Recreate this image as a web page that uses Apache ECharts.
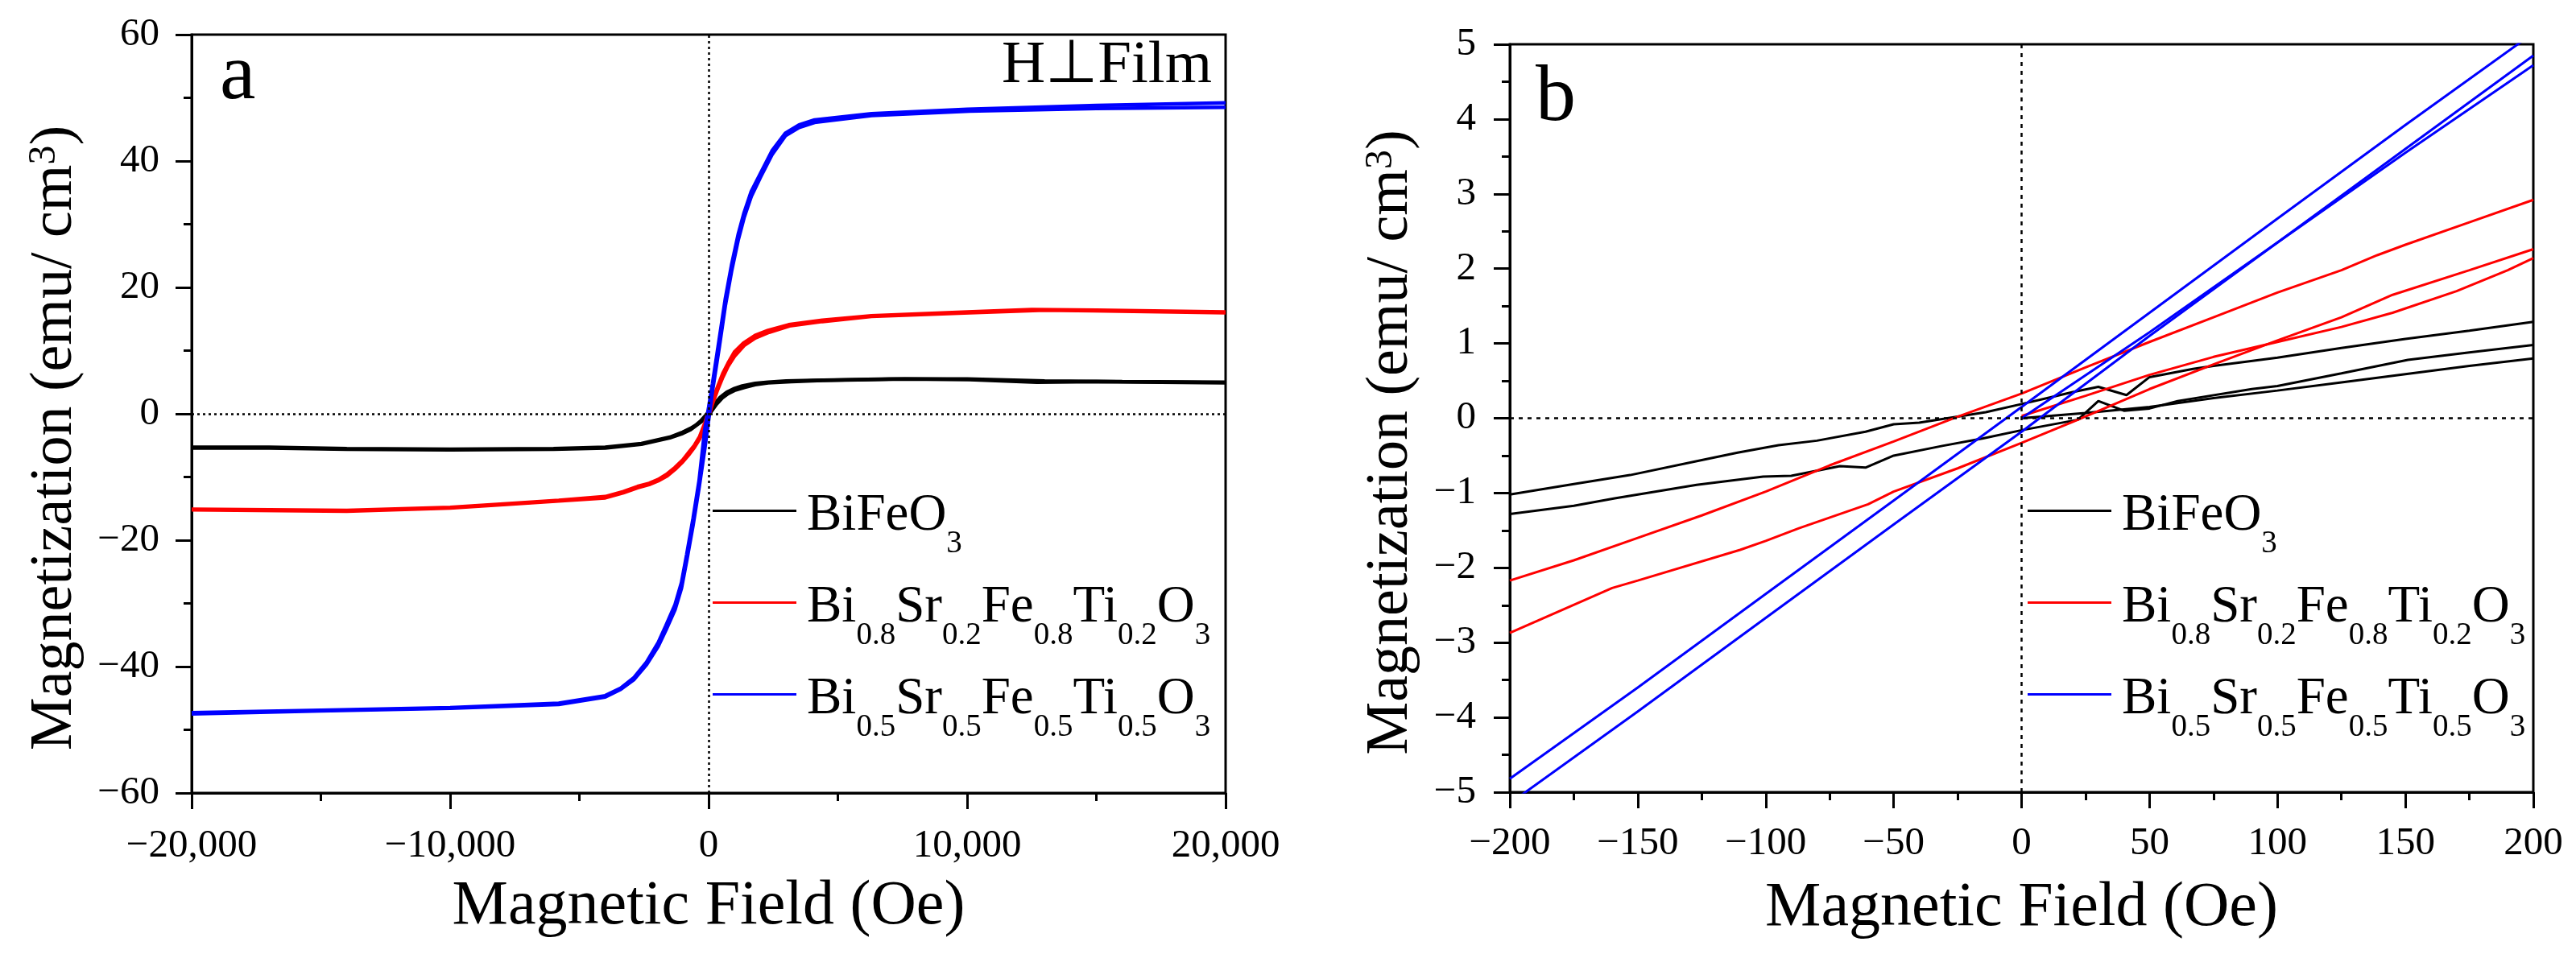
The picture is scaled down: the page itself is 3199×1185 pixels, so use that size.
<!DOCTYPE html>
<html>
<head>
<meta charset="utf-8">
<script src="https://cdn.jsdelivr.net/npm/echarts@6/dist/echarts.min.js"></script>
<style>
html, body { margin: 0; padding: 0; background: #fff; }
#chart { width: 3199px; height: 1185px; }
</style>
</head>
<body>
<div id="chart"></div>
<script>
// legend names
const names = ['BiFeO3', 'Bi0.8Sr0.2Fe0.8Ti0.2O3', 'Bi0.5Sr0.5Fe0.5Ti0.5O3'];
const colors = ['#000000', '#ff0000', '#0000ff'];

// panel a: full loops, field in Oe, magnetization in emu/cm3
const bfoUpA = [[-20000,-5.4],[-17000,-5.4],[-14000,-5.6],[-10000,-5.7],[-6000,-5.6],[-4000,-5.4],[-2600,-4.8],[-1500,-3.8],[-1000,-3.1],[-700,-2.5],[-300,-1.3],[0,-0.2],[300,1.5],[550,2.6],[750,3.2],[1000,3.7],[1400,4.2],[1800,4.6],[2300,4.9],[3200,5.1],[4400,5.3],[7600,5.5],[10100,5.4],[12700,5.0],[15000,5.1],[20000,4.9]];
const bfoDownA = [[20000,5.0],[16000,5.1],[13000,5.2],[10000,5.5],[7000,5.5],[4000,5.3],[3000,5.2],[2300,5.0],[1800,4.8],[1300,4.4],[1000,4.0],[700,3.4],[450,2.6],[300,1.9],[0,0.3],[-300,-1.1],[-500,-1.8],[-700,-2.3],[-1000,-2.9],[-1500,-3.7],[-2600,-4.7],[-4000,-5.3],[-6000,-5.5],[-10000,-5.6],[-14000,-5.5],[-17000,-5.3],[-20000,-5.3]];
const bsft2UpA = [[-20000,-15.2],[-14000,-15.4],[-10000,-14.9],[-7700,-14.3],[-5800,-13.8],[-4000,-13.3],[-3300,-12.5],[-2750,-11.7],[-2300,-11.2],[-1950,-10.6],[-1600,-9.8],[-1300,-8.8],[-1000,-7.6],[-750,-6.4],[-550,-5.3],[-350,-4.0],[-150,-2.1],[0,-0.5],[150,1.6],[330,3.6],[550,5.8],[750,7.5],[1000,9.1],[1370,10.8],[1800,12.0],[2340,12.9],[3130,13.9],[4400,14.6],[6300,15.4],[10100,16.0],[13000,16.4],[14900,16.3],[20000,16.0]];
const bsft2DownA = [[20000,16.1],[15000,16.4],[12500,16.5],[10000,16.1],[6300,15.5],[4400,14.8],[3100,14.1],[2300,13.2],[1800,12.4],[1350,11.2],[1000,9.8],[750,8.0],[550,6.4],[330,4.1],[150,2.2],[0,0.5],[-150,-1.5],[-350,-3.6],[-550,-5.0],[-750,-6.0],[-1000,-7.3],[-1300,-8.5],[-1600,-9.5],[-1950,-10.4],[-2300,-11.0],[-2750,-11.5],[-3300,-12.3],[-4000,-13.1],[-5800,-13.7],[-7700,-14.2],[-10000,-14.8],[-14000,-15.3],[-20000,-15.1]];
const bsft5UpA = [[-20000,-47.5],[-15000,-47.0],[-10000,-46.6],[-5800,-46.0],[-4000,-44.8],[-3400,-43.6],[-2900,-42.1],[-2400,-39.7],[-1950,-36.8],[-1650,-34.2],[-1300,-31.0],[-1050,-27.6],[-850,-23.3],[-600,-17.6],[-370,-11.7],[-150,-5.6],[0,-1],[150,3.6],[410,10.5],[650,17.2],[890,22.6],[1150,27.6],[1370,31.0],[1650,34.4],[2000,37.4],[2450,41.0],[2970,44.0],[3500,45.3],[4100,46.1],[6300,47.2],[10100,47.9],[15000,48.3],[20000,48.5]];
const bsft5DownA = [[20000,49.2],[15000,48.8],[10000,48.2],[6300,47.5],[4100,46.5],[3500,45.7],[2970,44.4],[2450,41.6],[2000,38.0],[1650,35.2],[1370,31.8],[1150,28.5],[890,23.6],[650,18.3],[410,11.8],[150,4.8],[0,1],[-150,-2.5],[-370,-10.6],[-600,-16.5],[-850,-22.3],[-1050,-26.7],[-1300,-30.2],[-1650,-33.5],[-1950,-36.2],[-2400,-39.3],[-2900,-41.8],[-3400,-43.4],[-4000,-44.6],[-5800,-45.8],[-10000,-46.5],[-15000,-46.9],[-20000,-47.3]];

// panel b: low field zoom, virgin curve + both branches
const bfoVirginB = [[0,0.0],[25,0.07],[50,0.15],[75,0.27],[100,0.37],[125,0.48],[150,0.59],[175,0.7],[200,0.8]];
const bfoDownB = [[200,1.29],[175,1.17],[150,1.06],[125,0.94],[100,0.81],[75,0.7],[67,0.66],[50,0.55],[41,0.31],[30,0.42],[20,0.35],[10,0.27],[0,0.19],[-14,0.08],[-27,0.01],[-40,-0.06],[-50,-0.08],[-61,-0.18],[-80,-0.3],[-95,-0.36],[-111,-0.46],[-125,-0.56],[-153,-0.76],[-175,-0.88],[-200,-1.02]];
const bfoUpB = [[-200,-1.28],[-175,-1.17],[-159,-1.07],[-127,-0.89],[-101,-0.78],[-90,-0.77],[-71,-0.64],[-61,-0.66],[-50,-0.5],[-31,-0.37],[-15,-0.27],[0,-0.16],[22,-0.02],[30,0.23],[40,0.1],[50,0.13],[61,0.23],[90,0.39],[100,0.43],[125,0.6],[151,0.78],[175,0.88],[200,0.98]];
const bsft2VirginB = [[0,0.03],[25,0.3],[50,0.58],[75,0.82],[100,1.02],[125,1.22],[145,1.41],[170,1.7],[190,1.98],[200,2.14]];
const bsft2DownB = [[200,2.92],[175,2.62],[150,2.32],[139,2.18],[125,1.98],[100,1.68],[75,1.35],[50,1.02],[25,0.68],[0,0.33],[-25,0.02],[-50,-0.31],[-75,-0.63],[-100,-0.98],[-125,-1.3],[-150,-1.6],[-175,-1.9],[-200,-2.17]];
const bsft2UpB = [[-200,-2.87],[-160,-2.27],[-150,-2.17],[-110,-1.76],[-100,-1.64],[-87,-1.47],[-60,-1.15],[-50,-0.98],[-25,-0.67],[0,-0.33],[22,-0.02],[50,0.39],[75,0.72],[100,1.04],[125,1.35],[145,1.65],[175,1.98],[200,2.26]];
const bsft5VirginB = [[0,0.0],[50,1.15],[100,2.35],[150,3.55],[200,4.72]];
const bsft5DownB = [[200,5.15],[150,3.92],[100,2.67],[50,1.41],[0,0.15],[-50,-1.1],[-100,-2.35],[-150,-3.6],[-200,-4.82]];
const bsft5UpB = [[-200,-5.15],[-150,-3.92],[-100,-2.67],[-50,-1.42],[0,-0.18],[50,1.1],[100,2.35],[150,3.6],[200,4.85]];

const FONT = 'Liberation Serif';

const legendText = {
    'BiFeO3': '{m|BiFeO}{s|3}',
    'Bi0.8Sr0.2Fe0.8Ti0.2O3': '{m|Bi}{s|0.8}{m|Sr}{s|0.2}{m|Fe}{s|0.8}{m|Ti}{s|0.2}{m|O}{s|3}',
    'Bi0.5Sr0.5Fe0.5Ti0.5O3': '{m|Bi}{s|0.5}{m|Sr}{s|0.5}{m|Fe}{s|0.5}{m|Ti}{s|0.5}{m|O}{s|3}'
};

const fmt = v => (v < 0 ? '\u2212' : '') + Math.abs(v).toLocaleString('en-US');

const zeroLine = dash => ({
    silent: true,
    symbol: ['none', 'none'],
    label: { show: false },
    lineStyle: { color: '#000', type: dash, width: 2.5 },
    data: [{ xAxis: 0 }, { yAxis: 0 }],
    animation: false
});

const branch = (k, data, idx, width) => ({
    type: 'line',
    name: names[k],
    xAxisIndex: idx,
    yAxisIndex: idx,
    data: data,
    symbol: 'none',
    color: colors[k],
    lineStyle: { color: colors[k], width: width },
    silent: true,
    animation: false
});

const series = [
    Object.assign(branch(0, bfoUpA, 0, 4.5), { markLine: zeroLine([3, 4]) }),
    branch(0, bfoDownA, 0, 4.5),
    branch(1, bsft2UpA, 0, 4.5),
    branch(1, bsft2DownA, 0, 4.5),
    branch(2, bsft5UpA, 0, 4.5),
    branch(2, bsft5DownA, 0, 4.5),
    Object.assign(branch(0, bfoVirginB, 1, 3), { markLine: zeroLine([5, 6]) }),
    branch(0, bfoDownB, 1, 3),
    branch(0, bfoUpB, 1, 3),
    branch(1, bsft2VirginB, 1, 3),
    branch(1, bsft2DownB, 1, 3),
    branch(1, bsft2UpB, 1, 3),
    branch(2, bsft5VirginB, 1, 3),
    branch(2, bsft5DownB, 1, 3),
    branch(2, bsft5UpB, 1, 3)
];

const valueAxis = (idx, min, max, interval, margin, extra) => Object.assign({
    type: 'value',
    gridIndex: idx,
    min: min,
    max: max,
    interval: interval,
    axisLine: { show: true, onZero: false, lineStyle: { color: '#000', width: 3 } },
    axisTick: { show: true, inside: false, length: 20, lineStyle: { color: '#000', width: 3 } },
    minorTick: { show: true, splitNumber: 2, length: 10, lineStyle: { color: '#000', width: 3 } },
    splitLine: { show: false },
    minorSplitLine: { show: false },
    axisLabel: { fontFamily: FONT, fontSize: 49, color: '#000', margin: margin, formatter: fmt },
    nameLocation: 'middle'
}, extra);

const xName = gap => ({
    name: 'Magnetic Field (Oe)',
    nameGap: gap,
    nameTextStyle: { fontFamily: FONT, fontSize: 78, color: '#000' }
});

const yName = gap => ({
    name: '{t|Magnetization (emu/ cm}{u|3}{t|)}',
    nameGap: gap,
    nameTextStyle: {
        fontFamily: FONT, fontSize: 74, color: '#000',
        padding: [0, 60, 0, 0],
        rich: {
            t: { fontFamily: FONT, fontSize: 74, lineHeight: 74, verticalAlign: 'bottom', color: '#000' },
            u: { fontFamily: FONT, fontSize: 48, lineHeight: 48, verticalAlign: 'top', padding: [0, 0, 38, 0], color: '#000' }
        }
    }
});

const legend = (left) => ({
    data: names,
    orient: 'vertical',
    left: left,
    top: 602,
    padding: 0,
    itemGap: 21,
    itemWidth: 104,
    itemHeight: 3,
    icon: 'rect',
    selectedMode: false,
    formatter: n => legendText[n],
    textStyle: {
        padding: [0, 0, 0, 8],
        rich: {
            m: { fontFamily: FONT, fontSize: 65, lineHeight: 65, padding: [6, 0, 0, 0], verticalAlign: 'top', color: '#000' },
            s: { fontFamily: FONT, fontSize: 39, lineHeight: 39, padding: [54, 0, 0, 0], verticalAlign: 'top', color: '#000' }
        }
    }
});

const chart = echarts.init(document.getElementById('chart'), null, { renderer: 'canvas' });

chart.setOption({
    backgroundColor: '#ffffff',
    animation: false,
    grid: [
        { left: 238, top: 43, width: 1284, height: 942, show: true, borderColor: '#000', borderWidth: 3, backgroundColor: 'transparent', containLabel: false, outerBoundsMode: 'none' },
        { left: 1875, top: 55, width: 1271, height: 929, show: true, borderColor: '#000', borderWidth: 3, backgroundColor: 'transparent', containLabel: false, outerBoundsMode: 'none' }
    ],
    xAxis: [
        valueAxis(0, -20000, 20000, 10000, 42, xName(103)),
        valueAxis(1, -200, 200, 50, 40, xName(106))
    ],
    yAxis: [
        valueAxis(0, -60, 60, 20, 40, yName(115)),
        valueAxis(1, -5, 5, 1, 42, yName(84))
    ],
    legend: [legend(885), legend(2518)],
    graphic: [
        { type: 'text', left: 273, top: 101 - 55, style: { text: 'a', fontFamily: FONT, fontSize: 100, fill: '#000' } },
        { type: 'text', left: 1907, top: 128 - 55, style: { text: 'b', fontFamily: FONT, fontSize: 100, fill: '#000' } },
        { type: 'text', right: 3199 - 1505, top: 87 - 42, style: { text: 'H\u22a5Film', fontFamily: FONT, fontSize: 75, fill: '#000' } }
    ],
    series: series
});
</script>
</body>
</html>
